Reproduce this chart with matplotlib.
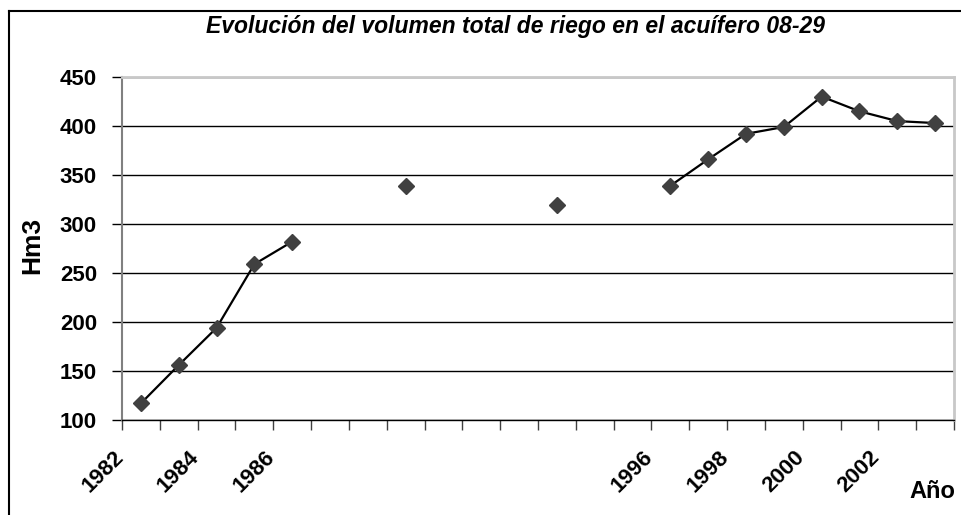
import numpy as np
import matplotlib
matplotlib.use("Agg")
import matplotlib.pyplot as plt
from matplotlib.lines import Line2D
from matplotlib.transforms import ScaledTranslation

plt.rcParams['font.family'] = ['Liberation Sans', 'DejaVu Sans']

# categorias del eje (las vacias no llevan etiqueta)
anios = ['1982', '1983', '1984', '1985', '1986', '', '', '', '', '', '', '', '', '',
         '1996', '1997', '1998', '1999', '2000', '2001', '2002', '2003']
# volumen de riego en Hm3 (nan = sin dato)
volumen = [117, 156, 194, 259, 282, np.nan, np.nan, 339, np.nan, np.nan, np.nan, 319,
           np.nan, np.nan, 339, 366, 392, 399, 430, 415, 405, 403]
etiquetas = [a if i % 2 == 0 else '' for i, a in enumerate(anios)]

fig = plt.figure(figsize=(9.62, 5.15), dpi=100)
ax = fig.add_axes([122/962, 1-420/515, (954-122)/962, (420-77)/515])

x = np.arange(len(anios))
vol = np.array(volumen, dtype=float)
ax.plot(x, vol, color='black', lw=1.6, zorder=3)
ax.plot(x, vol, ls='none', marker='D', ms=8, color='#404040', mec='#404040', zorder=4)

ax.set_xlim(-0.5, len(anios) - 0.5)
ax.set_ylim(100, 450)
ax.set_yticks(np.arange(100, 451, 50))
ax.yaxis.grid(True, color='black', lw=1)
ax.set_axisbelow(True)

# marcas entre categorias, etiquetas en el centro
ax.set_xticks(np.arange(-0.5, len(anios)), [''] * (len(anios) + 1))
ax.set_xticks(x, etiquetas, minor=True)
ax.tick_params(axis='x', which='major', length=7, width=1, color='#404040', direction='out')
ax.tick_params(axis='x', which='minor', length=0, pad=19)
ax.tick_params(axis='y', length=7, width=1, color='black', pad=11)
for lab in ax.get_yticklabels():
    lab.set_fontsize(16)
    lab.set_fontweight('bold')
off = ScaledTranslation(-13/100, 0, fig.dpi_scale_trans)
for lab in ax.get_xticklabels(minor=True):
    lab.set_fontsize(16)
    lab.set_fontweight('bold')
    lab.set_rotation(45)
    lab.set_ha('right')
    lab.set_va('top')
    lab.set_transform(lab.get_transform() + off)

ax.spines['left'].set_color('#808080')
ax.spines['left'].set_linewidth(1.5)
ax.spines['bottom'].set_color('black')
ax.spines['bottom'].set_linewidth(1)
for s in ['top', 'right']:
    ax.spines[s].set_color('#c8c8c8')
    ax.spines[s].set_linewidth(2)

fig.text(516/962, 1-27/515, 'Evolución del volumen total de riego en el acuífero 08-29',
         ha='center', va='center', fontsize=16.5, fontweight='bold', style='italic')
fig.text(32/962, 1-245/515, 'Hm3', rotation=90, ha='center', va='center',
         fontsize=19, fontweight='bold')
fig.text(932/962, 1-492/515, 'Año', ha='center', va='center', fontsize=17, fontweight='bold')

# marco exterior del grafico
yt = 1 - 11/515
xl = 9/962
fig.add_artist(Line2D([xl, xl], [0, yt], color='black', lw=1.5))
fig.add_artist(Line2D([xl, 1], [yt, yt], color='black', lw=1.5))

fig.savefig('out.png', dpi=100)
